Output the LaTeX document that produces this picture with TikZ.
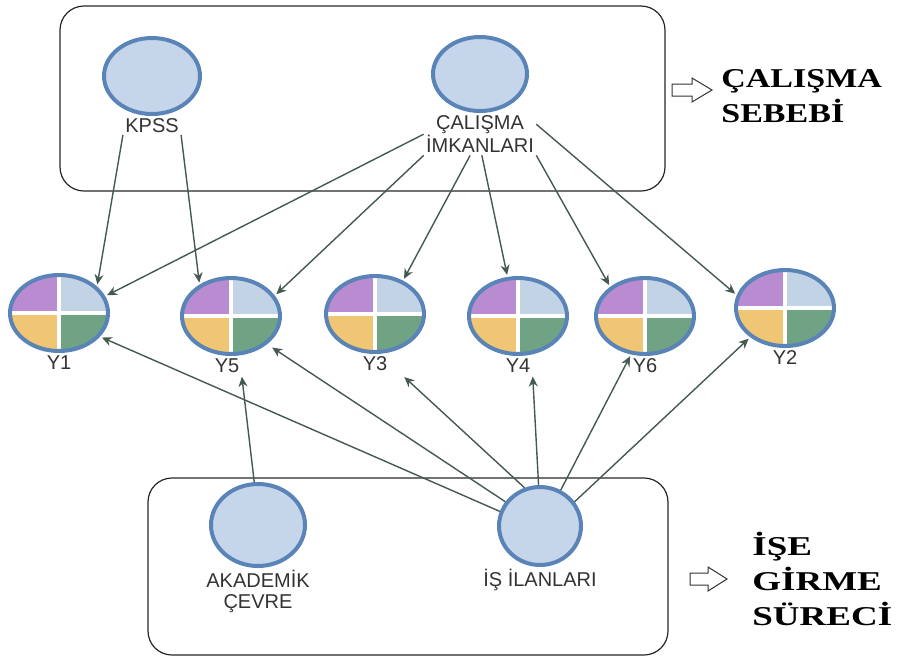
\documentclass[tikz,border=0pt]{standalone}
\usepackage{fontspec}
\setmainfont{Liberation Sans}
\newfontfamily\headfont{Liberation Serif}
\usepackage{graphicx}
\usetikzlibrary{arrows.meta,shapes.geometric,positioning}
\definecolor{nodefill}{HTML}{C5D5EA}
\definecolor{nodeline}{HTML}{5A84B8}
\definecolor{qpurple}{HTML}{B98BD0}
\definecolor{qblue}{HTML}{C3D3E6}
\definecolor{qyellow}{HTML}{F0C674}
\definecolor{qgreen}{HTML}{6FA384}
\definecolor{linkcol}{HTML}{45594E}
\tikzset{
    factornode/.style = {
        ellipse,
        draw=nodeline,
        fill=nodefill,
        line width=2pt,
        inner sep=0pt
    },
    itemnode/.style = {
        ellipse,
        draw=nodeline,
        line width=2pt,
        minimum width=49pt,
        minimum height=38pt,
        inner sep=0pt,
        path picture={
            \fill[qpurple] (path picture bounding box.center) rectangle (path picture bounding box.north west);
            \fill[qblue] (path picture bounding box.center) rectangle (path picture bounding box.north east);
            \fill[qyellow] (path picture bounding box.center) rectangle (path picture bounding box.south west);
            \fill[qgreen] (path picture bounding box.center) rectangle (path picture bounding box.south east);
            \draw[white, line width=2pt] (path picture bounding box.north) -- (path picture bounding box.south);
            \draw[white, line width=2pt] (path picture bounding box.west) -- (path picture bounding box.east);
        }
    },
    labelnode/.style = {
        font=\fontsize{10}{10.5}\selectfont,
        text=black!80,
        align=center,
        inner sep=1pt
    },
    link/.style = {
        draw=linkcol,
        line width=0.7pt,
        shorten >=1pt,
        -{Stealth[length=5pt,width=4.5pt]}
    },
    groupbox/.style = {
        draw=black!85,
        line width=0.6pt,
        rounded corners=12pt
    },
    blockarrow/.style = {
        draw=black!80,
        fill=white,
        line width=0.5pt
    },
    headtext/.style = {
        font=\headfont\bfseries\fontsize{13.6}{17.5}\selectfont,
        inner sep=0pt,
        anchor=base west
    }
}

\begin{document}
\begin{tikzpicture}[x=0.5pt, y=-0.5pt]
    \useasboundingbox (0,0) rectangle (901,666);

    % group frames
    \draw[groupbox] (60,6) rectangle (665,191);
    \draw[groupbox] (148,478) rectangle (668,655);

    % factors
    \node [factornode, minimum width=48pt, minimum height=38pt] (kpss) at (152,76) {};
    \node [labelnode, below=0pt of kpss] (kpsslbl) {KPSS};
    \node [factornode, minimum width=47pt, minimum height=37pt] (ci) at (480,74) {};
    \node [labelnode, below=0pt of ci] (cilbl) {ÇALIŞMA\\İMKANLARI};
    \node [factornode, minimum width=47pt, minimum height=41pt] (aka) at (258,525) {};
    \node [labelnode, below=0pt of aka] (akalbl) {AKADEMİK\\ÇEVRE};
    \node [factornode, minimum width=41pt, minimum height=39pt] (isil) at (540,526) {};
    \node [labelnode, below=0pt of isil] (isillbl) {İŞ İLANLARI};

    % items
    \node [itemnode] (y1) at (59,313) {};
    \node [labelnode, below=0pt of y1] (y1lbl) {Y1};
    \node [itemnode] (y5) at (231,316) {};
    \node [labelnode, below=0pt of y5, xshift=-2pt] (y5lbl) {Y5};
    \node [itemnode] (y3) at (375,314) {};
    \node [labelnode, below=0pt of y3] (y3lbl) {Y3};
    \node [itemnode] (y4) at (518,316) {};
    \node [labelnode, below=0pt of y4] (y4lbl) {Y4};
    \node [itemnode] (y6) at (645,316) {};
    \node [labelnode, below=0pt of y6] (y6lbl) {Y6};
    \node [itemnode] (y2) at (785,308) {};
    \node [labelnode, below=0pt of y2] (y2lbl) {Y2};

    % links
    \draw[link] (kpsslbl.south west) -- (y1.35);
    \draw[link] (kpsslbl.south east) -- (y5.135);
    \draw[link] (cilbl.west) -- (y1.20);
    \draw[link] (cilbl.south west) -- (y5.25);
    \draw[link] (cilbl.-115) -- (y3.50);
    \draw[link] (cilbl.-85) -- (y4.105);
    \draw[link] (cilbl.south east) -- (y6.140);
    \draw[link] (cilbl.10) -- (y2.165);
    \draw[link] (isil.160) -- (y1.-30);
    \draw[link, shorten >=3pt] (isil.145) -- (y5.-38);
    \draw[link, shorten >=10pt] (isil.112) -- (y3lbl.east);
    \draw[link] (isil.92) -- (y4lbl.south east);
    \draw[link] (isil.60) -- (y6.-110);
    \draw[link] (isil.35) -- (y2.-140);
    \draw[link] (aka.95) -- (y5lbl.south east);

    % side captions
    \draw[blockarrow] (672,84) -- (692,84) -- (692,78) -- (712,90) -- (692,102) -- (692,96) -- (672,96) -- cycle;
    \node [headtext] (toptext) at (721,87) {\scalebox{1.25}[1]{\begin{tabular}[t]{@{}l@{}}ÇALIŞMA\\SEBEBİ\end{tabular}}};
    \draw[blockarrow] (690,573) -- (708,573) -- (708,567) -- (727,579) -- (708,591) -- (708,585) -- (690,585) -- cycle;
    \node [headtext] (bottext) at (752,555) {\scalebox{1.36}[1]{\begin{tabular}[t]{@{}l@{}}İŞE\\GİRME\\SÜRECİ\end{tabular}}};
\end{tikzpicture}
\end{document}
